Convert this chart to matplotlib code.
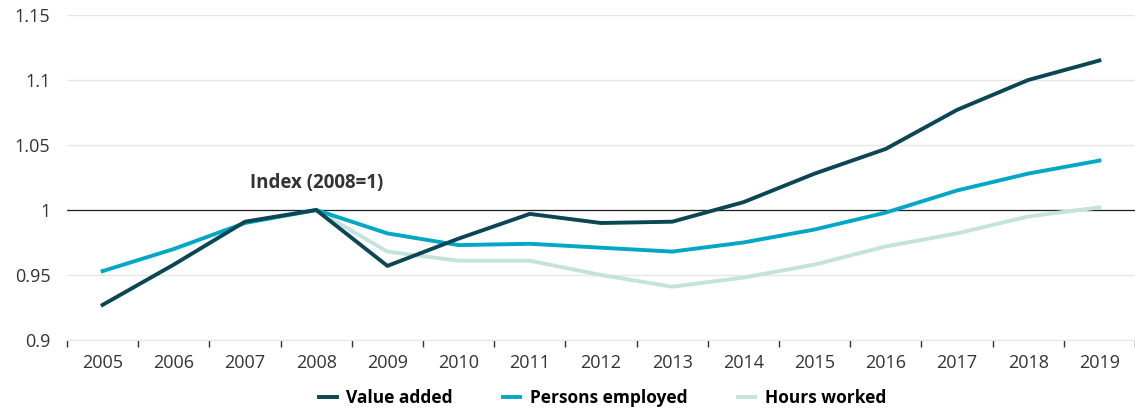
import numpy as np
import matplotlib
matplotlib.use("Agg")
import matplotlib.pyplot as plt

plt.rcParams["font.family"] = ["Open Sans", "DejaVu Sans"]

years = [str(y) for y in range(2005, 2020)]
value_added = [0.927, 0.958, 0.991, 1.000, 0.957, 0.978, 0.997, 0.990, 0.991,
               1.006, 1.028, 1.047, 1.077, 1.100, 1.115]
persons_employed = [0.953, 0.970, 0.990, 1.000, 0.982, 0.973, 0.974, 0.971, 0.968,
                    0.975, 0.985, 0.998, 1.015, 1.028, 1.038]
hours_years = years[3:]
hours_worked = [1.000, 0.968, 0.961, 0.961, 0.950, 0.941, 0.948, 0.958,
                0.972, 0.982, 0.995, 1.002]

c_dark = "#0b4655"
c_cyan = "#00a8c5"
c_light = "#c4e3dd"

fig = plt.figure(figsize=(11.35, 4.12), dpi=100)
ax = fig.add_axes([67 / 1135, 72 / 412, 1068 / 1135, 325 / 412])

x = np.arange(len(years))
xh = np.arange(3, 3 + len(hours_years))
ax.plot(xh, hours_worked, color=c_light, lw=2.8, label="Hours worked", zorder=3)
ax.plot(x, persons_employed, color=c_cyan, lw=2.8, label="Persons employed", zorder=4)
ax.plot(x, value_added, color=c_dark, lw=2.8, label="Value added", zorder=5)

ax.axhline(1.0, color="#222222", lw=0.9, zorder=2)

ax.set_ylim(0.9, 1.15)
ax.set_xlim(-0.5, len(years) - 0.5)
ax.set_yticks([0.9, 0.95, 1.0, 1.05, 1.1, 1.15])
ax.set_yticklabels(["0.9", "0.95", "1", "1.05", "1.1", "1.15"])
ax.yaxis.grid(True, color="#e6e6e6", lw=1)
ax.set_axisbelow(True)
ax.tick_params(axis="y", length=0, labelsize=13, colors="#333333", pad=12)

ax.set_xticks(x)
ax.set_xticklabels(years)
ax.set_xticks(np.arange(-0.5, len(years), 1), minor=True)
ax.tick_params(axis="x", which="major", length=0, labelsize=13, colors="#333333", pad=10)
ax.tick_params(axis="x", which="minor", length=5, color="#333333", width=1)

for s in ["left", "right", "top"]:
    ax.spines[s].set_visible(False)
ax.spines["bottom"].set_color("#e6e6e6")

ax.text(3, 1.021, "Index (2008=1)", ha="center", va="center",
        fontsize=13.5, fontweight="bold", color="#333333")

handles, labels = ax.get_legend_handles_labels()
order = [2, 1, 0]
fig.legend([handles[i] for i in order], [labels[i] for i in order],
           loc="center", bbox_to_anchor=(0.531, 0.034), ncol=3, frameon=False,
           handlelength=1.0, handletextpad=0.55, columnspacing=2.9,
           prop={"weight": "bold", "size": 12.5})

fig.savefig("out.png", dpi=100)
